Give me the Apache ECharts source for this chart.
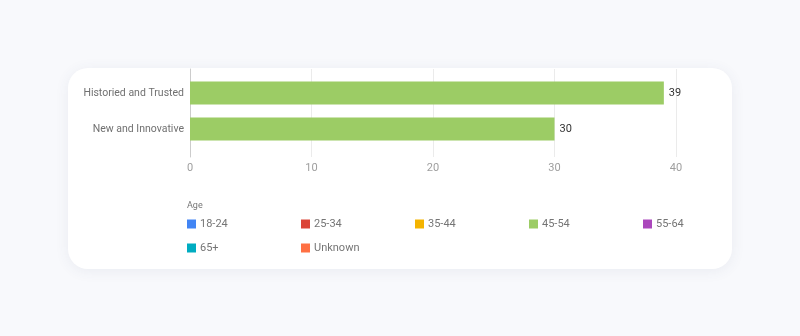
<!DOCTYPE html>
<html>
<head>
<meta charset="utf-8">
<script src="https://cdn.jsdelivr.net/npm/echarts@6/dist/echarts.min.js"></script>
<style>
  html, body { margin: 0; padding: 0; background: #f8f9fc; }
  #chart { width: 800px; height: 336px; }
</style>
</head>
<body>
<div id="chart"></div>
<script>
// Brand perception by age group
const categories = ['Historied and Trusted', 'New and Innovative'];
const ageGroups = ['18-24', '25-34', '35-44', '45-54', '55-64', '65+', 'Unknown'];
const ageColors = ['#4285f4', '#db4437', '#f4b400', '#9ccc65', '#ab47bc', '#00acc1', '#ff7043'];
// counts per age group, in category order (only 45-54 responded)
const values45to54 = [39, 30];
const xTicks = [0, 10, 20, 30, 40];

const seriesData = {
  '45-54': values45to54
};

const chart = echarts.init(document.getElementById('chart'), null, { renderer: 'canvas' });

const font = 'Roboto, "Noto Sans", sans-serif';

const series = ageGroups.map((name, i) => ({
  name: name,
  type: 'bar',
  stack: 'age',
  xAxisIndex: 1,
  yAxisIndex: 1,
  barWidth: 23,
  itemStyle: { color: ageColors[i] },
  label: {
    show: true,
    position: 'right',
    distance: 5,
    color: '#333333',
    fontSize: 11,
    fontFamily: font
  },
  data: seriesData[name] ? seriesData[name].slice() : []
}));

chart.setOption({
  animation: false,
  backgroundColor: '#f8f9fc',
  graphic: [{
    type: 'rect',
    z: -10,
    shape: { x: 68, y: 68, width: 664, height: 201, r: 20 },
    style: {
      fill: '#ffffff',
      shadowBlur: 14,
      shadowColor: 'rgba(60, 80, 120, 0.08)',
      shadowOffsetY: 2
    }
  }],
  title: {
    text: 'Age',
    left: 187,
    top: 201,
    textStyle: { fontSize: 9, fontWeight: 'normal', color: '#757575', fontFamily: font },
    padding: 0
  },
  legend: {
    data: ageGroups,
    left: 187,
    top: 212,
    width: 580,
    orient: 'horizontal',
    icon: 'rect',
    itemWidth: 9,
    itemHeight: 9,
    itemGap: 0,
    padding: 0,
    selectedMode: false,
    textStyle: {
      fontSize: 11,
      color: '#757575',
      fontFamily: font,
      width: 101,
      lineHeight: 24,
      padding: [0, 0, 0, -1]
    }
  },
  grid: [
    { left: 190, width: 486, top: 69, height: 88, containLabel: false },
    { left: 190, width: 486, top: 75, height: 72, containLabel: false }
  ],
  xAxis: [
    {
      gridIndex: 0,
      type: 'value',
      min: xTicks[0],
      max: xTicks[xTicks.length - 1],
      interval: 10,
      axisLine: { show: false },
      axisTick: { show: false },
      splitLine: { show: true, lineStyle: { color: '#ebebeb', width: 1 } },
      axisLabel: { color: '#9e9e9e', fontSize: 11, fontFamily: font, margin: 6 }
    },
    {
      gridIndex: 1,
      type: 'value',
      min: xTicks[0],
      max: xTicks[xTicks.length - 1],
      interval: 10,
      show: false
    }
  ],
  yAxis: [
    {
      gridIndex: 0,
      type: 'value',
      min: 0,
      max: 1,
      axisLine: { show: true, onZero: false, lineStyle: { color: '#cccccc' } },
      axisTick: { show: false },
      axisLabel: { show: false },
      splitLine: { show: false }
    },
    {
      gridIndex: 1,
      type: 'category',
      inverse: true,
      data: categories,
      axisLine: { show: false },
      axisTick: { show: false },
      splitLine: { show: false },
      axisLabel: { color: '#707070', fontSize: 10.5, fontFamily: font, margin: 6 }
    }
  ],
  series: series
});
</script>
</body>
</html>
